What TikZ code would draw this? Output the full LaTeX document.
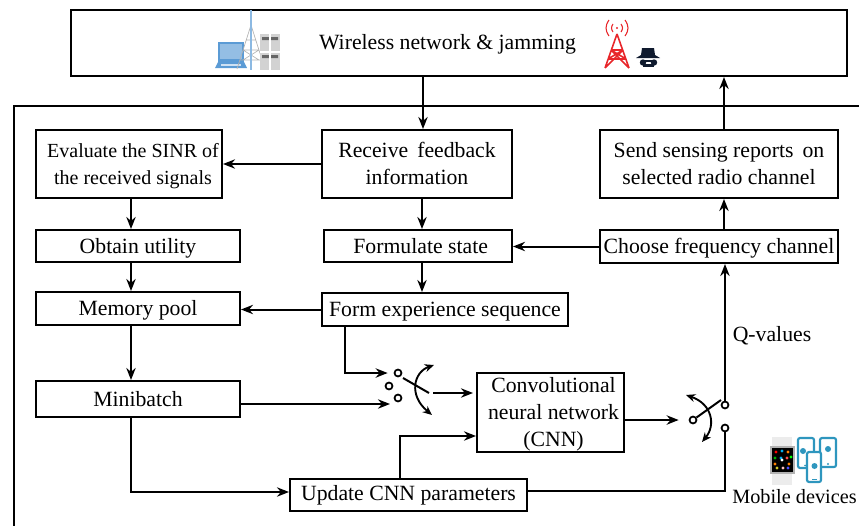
\documentclass[tikz,border=0pt]{standalone}
\usepackage{fontspec}
\setmainfont{Liberation Serif}
\usetikzlibrary{arrows.meta,calc}
\definecolor{lapblue}{HTML}{5B9BD5}
\definecolor{phoneblue}{HTML}{2E96BE}
\definecolor{jamred}{HTML}{E8262A}
\definecolor{spy}{HTML}{0F1A2E}
\tikzset{
  px/.style={x=0.75pt,y=-0.75pt},
  box/.style={draw=black,line width=1.5pt,inner sep=0pt,align=center,font=\fontsize{16.3}{20.3}\selectfont},
  smalltext/.style={font=\fontsize{15}{20.3}\selectfont},
  conn/.style={line width=1.5pt,-{Stealth[length=9pt,width=7pt]}},
  plain/.style={line width=1.5pt},
  contact/.style={circle,draw=black,line width=1.3pt,inner sep=0pt,minimum size=5.2pt,fill=white},
  swarm/.style={line width=1.4pt,{Stealth[length=7pt,width=6pt]}-{Stealth[length=7pt,width=6pt]}},
  lbl/.style={font=\fontsize{16.3}{20}\selectfont,inner sep=0pt}
}
\newcommand{\pbox}[6][]{%
  \node[box,#1,minimum width={(#5-#3)*0.75pt},minimum height={(#6-#4)*0.75pt}] (#2) at ({(#3+#5)/2},{(#4+#6)/2})}
\newcommand{\topst}{\strut\rule{0pt}{\dimexpr\ht\strutbox+3pt\relax}}
\begin{document}
\begin{tikzpicture}[px]
\useasboundingbox (0,0) rectangle (859,525);
\clip (0,0) rectangle (859,525);
% frames
\draw[line width=1.5pt] (14,530) -- (14,106) -- (865,106);
\pbox{net}{71}{10}{847}{76} {};
\node[lbl] (nettext) at (447.5,44) {\strut Wireless network \& jamming};
\pbox{recv}{322}{130}{512}{198} {\topst Receive\, feedback\\\strut information};
\pbox[smalltext]{eval}{36}{130}{222}{198} {\topst\hspace*{6pt}Evaluate the SINR of\\\strut\hspace*{6pt}the received signals};
\pbox{send}{600}{130}{838}{198} {\topst Send sensing reports\, on\\\strut selected radio channel};
\pbox{obtain}{36}{230}{240}{262} {\topst Obtain utility};
\pbox{state}{324}{230}{512}{262} {\topst\hspace*{4pt}Formulate state};
\pbox{choose}{600}{230}{838}{263} {\topst Choose frequency channel};
\pbox{memory}{36}{292}{240}{325} {\topst Memory pool};
\pbox{form}{322}{293}{568}{326} {\topst Form experience sequence};
\pbox{mini}{36}{381}{240}{417} {\topst Minibatch};
\pbox{cnn}{477}{373}{624}{452} {\strut\hspace*{4.5pt}Convolutional\\\strut\hspace*{4.5pt}neural network\\\hspace*{4.5pt}(CNN)};
\pbox{update}{290}{479}{527}{511} {\strut Update CNN parameters};
\node[lbl] (qval) at (772,336) {\strut Q-values};
\node[lbl,anchor=west,font=\fontsize{15.2}{20}\selectfont] (mobile) at (732,498) {\strut Mobile devices};
% switch 1
\node[contact] (s1a) at (398,373) {};
\node[contact] (s1b) at (389,386) {};
\node[contact] (s1c) at (398,398) {};
\coordinate (s1p) at (429,393);
\coordinate (s1in) at (390,404);
\coordinate (s1out) at (433,393);
\draw[plain] (403,378) -- (s1p);
\draw[swarm] (434,365) .. controls (414,372) and (408,395) .. (432,415);
% switch 2
\node[contact] (s2a) at (693,420) {};
\node[contact] (s2b) at (725,405) {};
\node[contact] (s2c) at (725,428) {};
\draw[plain] (s2a) -- (721,400);
\draw[swarm] (686,395) .. controls (712,404) and (716,425) .. (702,442);
% connectors
\draw[conn] (423,0 |- net.south) -- (423,0 |- recv.north);
\draw[conn] (724,0 |- send.north) -- (724,0 |- net.south);
\draw[conn] (recv.west) -- (eval.east);
\draw[conn] (422,0 |- recv.south) -- (422,0 |- state.north);
\draw[conn] (131,0 |- eval.south) -- (131,0 |- obtain.north);
\draw[conn] (131,0 |- obtain.south) -- (131,0 |- memory.north);
\draw[conn] (131,0 |- memory.south) -- (131,0 |- mini.north);
\draw[conn] (724,0 |- choose.north) -- (724,0 |- send.south);
\draw[conn] (choose.west) -- (choose.west -| state.east);
\draw[conn] (422,0 |- state.south) -- (422,0 |- form.north);
\draw[conn] (form.west) -- (form.west -| memory.east);
\draw[conn] (345,0 |- form.south) |- ($(s1a.west)+(-6,0)$);
\draw[conn] (s1in -| mini.east) -- (s1in);
\draw[conn] (131,0 |- mini.south) |- ($(update.west)+(0,-3)$);
\draw[conn] (400,0 |- update.north) |- (cnn.west |- 0,436);
\draw[conn] (s1out) -- (473,0 |- s1out);
\draw[conn] (cnn.east |- 0,420) -- ($(s2a.west)+(-10,0)$);
\draw[conn] (s2b) -- (725,0 |- choose.south);
\draw[plain] ($(update.east)+(0,-4)$) -| (s2c);
% laptop, mast, servers
\fill[lapblue] (218,42) rectangle (244,62);
\fill[white!35!lapblue] (220,44) rectangle (242,59);
\fill[lapblue] (215,68) -- (218,62) -- (244,62) -- (247,68) -- cycle;
\fill[white!70!lapblue] (221,63.5) rectangle (241,65.5);
\draw[gray!60,line width=.5pt] (251,25) -- (237,69) (251,25) -- (265,69)
  (246,40)--(256,40) (243,50)--(259,50) (240,60)--(262,60) (243,50)--(259,60) (259,50)--(243,60);
\draw[lapblue!70,line width=1.2pt] (251,10) -- (251,70);
\fill[gray!35] (260,34) rectangle (280,70);
\fill[gray!80!black] (262,37) rectangle (269,40) (271,37) rectangle (278,40) (262,55) rectangle (269,58) (271,55) rectangle (278,58);
\draw[white,line width=.8pt] (270,34) -- (270,70) (260,52) -- (280,52);
% jammer tower
\begin{scope}[jamred,line width=1.2pt]
\draw (617,34) -- (605,68) (617,34) -- (629,68) (611,50) -- (623,50) (608,59) -- (626,59) (611,50) -- (626,59) (623,50) -- (608,59) (605,68) -- (623,50) (629,68) -- (611,50);
\fill (617,28) circle (1.2);
\draw[line width=.8pt] (613,24) .. controls (611,27) and (611,29) .. (613,32)
  (621,24) .. controls (623,27) and (623,29) .. (621,32)
  (609,20) .. controls (605,26) and (605,30) .. (609,36)
  (625,20) .. controls (629,26) and (629,30) .. (625,36);
\end{scope}
% spy
\fill[spy] (636,58) -- (660,58) -- (655,55) -- (654,48) -- (642,48) -- (641,55) -- cycle;
\fill[spy] (643,62.5) circle (3.2) (654,62.5) circle (3.2);
\fill[spy] (644,60) rectangle (653,62);
\fill[spy] (643,64) rectangle (654,67);
% watch
\fill[gray!15] (772,437) rectangle (792,485);
\fill[gray!60] (770,446) rectangle (795,474);
\fill[black] (772,448) rectangle (793,472);
\foreach \px/\py/\c in {776/452/red,782/451/cyan,788/452/orange,775/458/green!70!black,781/458/cyan,787/458/red!70,791/457/green,775/464/orange,782/460/white,789/464/orange,777/468/yellow!80!black,783/468/pink,788/468/blue!70}{\fill[\c] (\px,\py) circle (1.6);}
% phones
\begin{scope}[phoneblue]
\draw[line width=1.6pt,rounded corners=1.5pt,fill=white] (798,438) rectangle (814,468);
\draw[line width=1.6pt,rounded corners=1.5pt,fill=white] (820,438) rectangle (836,467);
\fill (803,451) circle (3) (828,449) circle (3);
\fill (828,464) circle (1.2) (805,465.5) circle (1);
\draw[line width=1.6pt,rounded corners=1.5pt,fill=white] (807,452) rectangle (821,482);
\fill (814.5,466) circle (3);
\fill (812,479) rectangle (817,480);
\end{scope}
\end{tikzpicture}
\end{document}
